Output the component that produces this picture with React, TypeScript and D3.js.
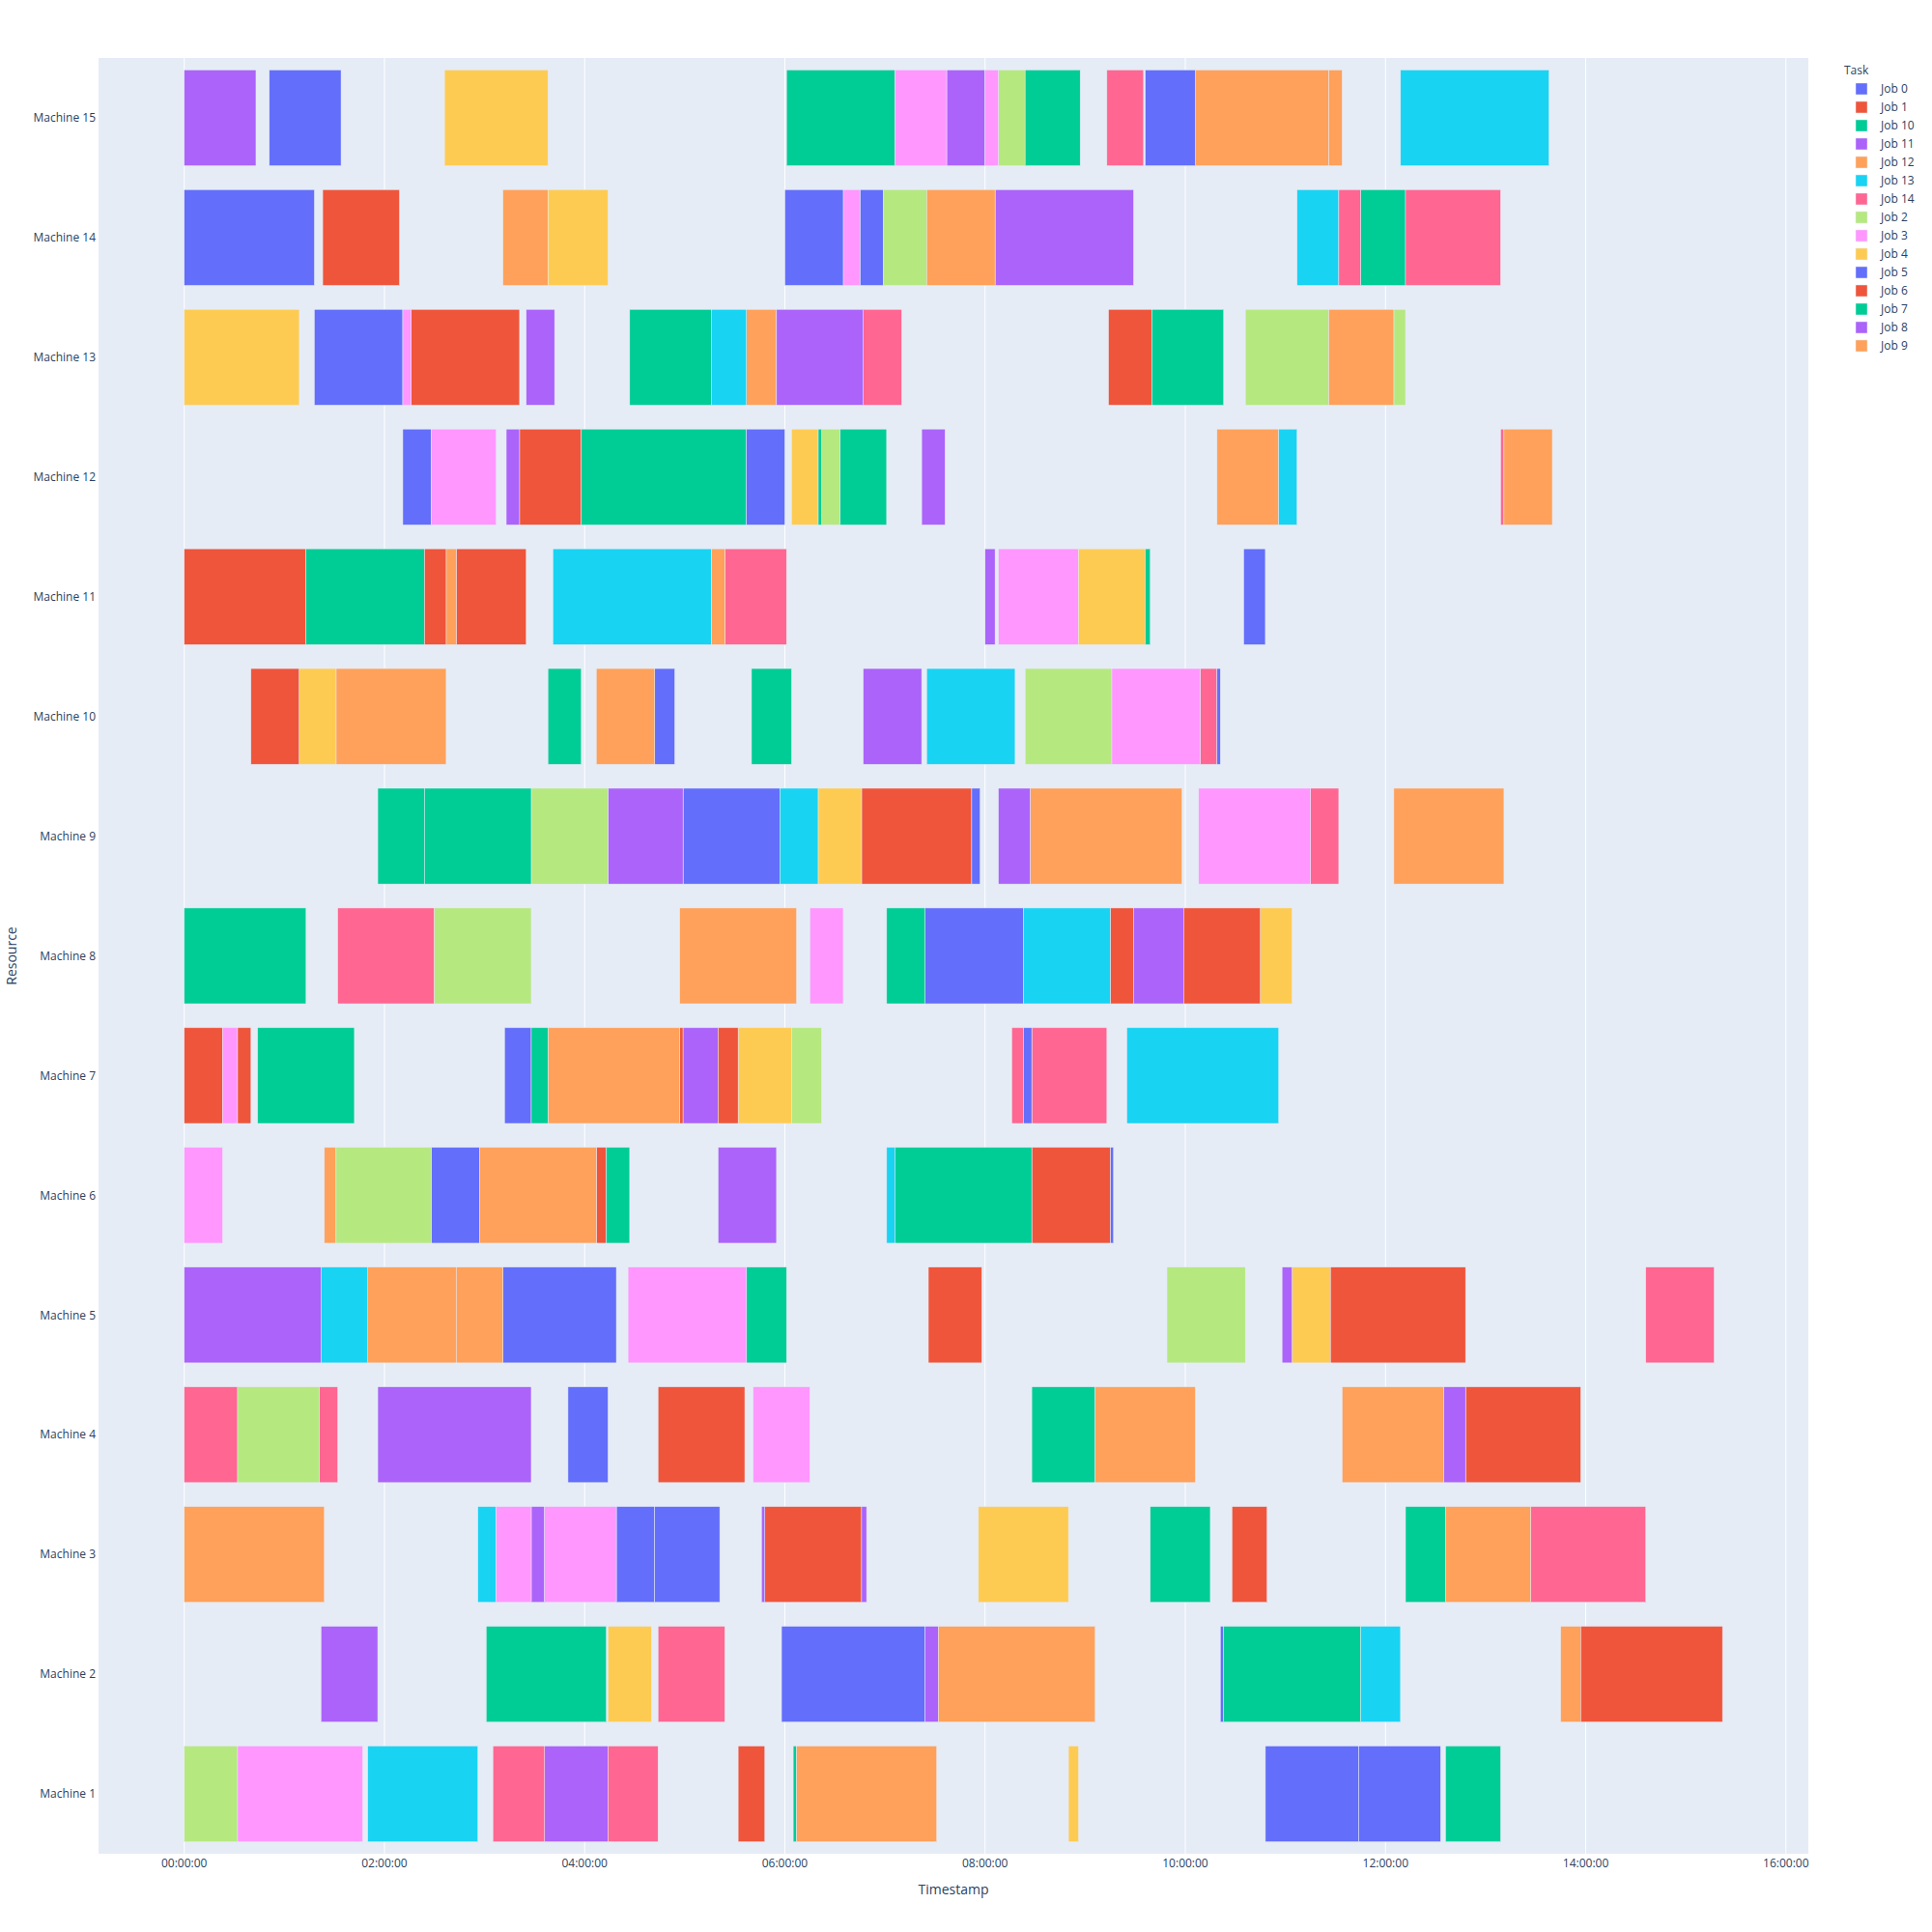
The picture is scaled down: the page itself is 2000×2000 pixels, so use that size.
import * as d3 from "d3";

// segments per machine: [job, start, finish] (H:MM, same day)
const machine1 = [
  ["Job 2", "0:00", "0:32"], ["Job 3", "0:32", "1:47"], ["Job 13", "1:50", "2:56"], ["Job 14", "3:05", "3:36"],
  ["Job 11", "3:36", "4:14"], ["Job 14", "4:14", "4:44"], ["Job 1", "5:32", "5:48"], ["Job 10", "6:05", "6:07"],
  ["Job 12", "6:07", "7:31"], ["Job 4", "8:50", "8:56"], ["Job 0", "10:48", "11:44"], ["Job 5", "11:44", "12:33"],
  ["Job 7", "12:36", "13:09"],
];
const machine2 = [
  ["Job 11", "1:22", "1:56"], ["Job 10", "3:01", "4:13"], ["Job 4", "4:14", "4:40"], ["Job 14", "4:44", "5:24"],
  ["Job 0", "5:58", "7:24"], ["Job 8", "7:24", "7:32"], ["Job 9", "7:32", "9:06"], ["Job 5", "10:21", "10:23"],
  ["Job 7", "10:23", "11:45"], ["Job 13", "11:45", "12:09"], ["Job 12", "13:45", "13:57"], ["Job 6", "13:57", "15:22"],
];
const machine3 = [
  ["Job 12", "0:00", "1:24"], ["Job 13", "2:56", "3:07"], ["Job 3", "3:07", "3:28"], ["Job 11", "3:28", "3:36"],
  ["Job 3", "3:36", "4:19"], ["Job 0", "4:19", "4:42"], ["Job 5", "4:42", "5:21"], ["Job 8", "5:46", "5:48"],
  ["Job 1", "5:48", "6:46"], ["Job 11", "6:46", "6:49"], ["Job 4", "7:56", "8:50"], ["Job 10", "9:39", "10:15"],
  ["Job 6", "10:28", "10:49"], ["Job 7", "12:12", "12:36"], ["Job 9", "12:36", "13:27"], ["Job 14", "13:27", "14:36"],
];
const machine4 = [
  ["Job 14", "0:00", "0:32"], ["Job 2", "0:32", "1:21"], ["Job 14", "1:21", "1:32"], ["Job 11", "1:56", "3:28"],
  ["Job 0", "3:50", "4:14"], ["Job 1", "4:44", "5:36"], ["Job 3", "5:41", "6:15"], ["Job 10", "8:28", "9:06"],
  ["Job 12", "9:06", "10:06"], ["Job 9", "11:34", "12:35"], ["Job 8", "12:35", "12:48"], ["Job 6", "12:48", "13:57"],
];
const machine5 = [
  ["Job 11", "0:00", "1:22"], ["Job 13", "1:22", "1:50"], ["Job 12", "1:50", "2:43"], ["Job 9", "2:43", "3:11"],
  ["Job 0", "3:11", "4:19"], ["Job 3", "4:26", "5:37"], ["Job 10", "5:37", "6:01"], ["Job 1", "7:26", "7:58"],
  ["Job 2", "9:49", "10:36"], ["Job 8", "10:58", "11:04"], ["Job 4", "11:04", "11:27"], ["Job 6", "11:27", "12:48"],
  ["Job 14", "14:36", "15:17"],
];
const machine6 = [
  ["Job 3", "0:00", "0:23"], ["Job 12", "1:24", "1:31"], ["Job 2", "1:31", "2:28"], ["Job 0", "2:28", "2:57"],
  ["Job 9", "2:57", "4:07"], ["Job 1", "4:07", "4:13"], ["Job 10", "4:13", "4:27"], ["Job 11", "5:20", "5:55"],
  ["Job 13", "7:01", "7:06"], ["Job 7", "7:06", "8:28"], ["Job 6", "8:28", "9:15"], ["Job 5", "9:15", "9:17"],
];
const machine7 = [
  ["Job 1", "0:00", "0:23"], ["Job 3", "0:23", "0:32"], ["Job 6", "0:32", "0:40"], ["Job 10", "0:44", "1:42"],
  ["Job 0", "3:12", "3:28"], ["Job 7", "3:28", "3:38"], ["Job 12", "3:38", "4:57"], ["Job 1", "4:57", "4:59"],
  ["Job 11", "4:59", "5:20"], ["Job 6", "5:20", "5:32"], ["Job 4", "5:32", "6:04"], ["Job 2", "6:04", "6:22"],
  ["Job 14", "8:16", "8:23"], ["Job 5", "8:23", "8:28"], ["Job 14", "8:28", "9:13"], ["Job 13", "9:25", "10:56"],
];
const machine8 = [
  ["Job 10", "0:00", "1:13"], ["Job 14", "1:32", "2:30"], ["Job 2", "2:30", "3:28"], ["Job 12", "4:57", "6:07"],
  ["Job 3", "6:15", "6:35"], ["Job 7", "7:01", "7:24"], ["Job 0", "7:24", "8:23"], ["Job 13", "8:23", "9:15"],
  ["Job 1", "9:15", "9:29"], ["Job 11", "9:29", "9:59"], ["Job 6", "9:59", "10:45"], ["Job 4", "10:45", "11:04"],
];
const machine9 = [
  ["Job 10", "1:56", "2:24"], ["Job 7", "2:24", "3:28"], ["Job 2", "3:28", "4:14"], ["Job 11", "4:14", "4:59"],
  ["Job 0", "4:59", "5:57"], ["Job 13", "5:57", "6:20"], ["Job 4", "6:20", "6:46"], ["Job 1", "6:46", "7:52"],
  ["Job 5", "7:52", "7:57"], ["Job 8", "8:08", "8:27"], ["Job 12", "8:27", "9:58"], ["Job 3", "10:08", "11:15"],
  ["Job 14", "11:15", "11:32"], ["Job 9", "12:05", "13:11"],
];
const machine10 = [
  ["Job 1", "0:40", "1:09"], ["Job 4", "1:09", "1:31"], ["Job 12", "1:31", "2:37"], ["Job 10", "3:38", "3:58"],
  ["Job 9", "4:07", "4:42"], ["Job 0", "4:42", "4:54"], ["Job 7", "5:40", "6:04"], ["Job 11", "6:47", "7:22"],
  ["Job 13", "7:25", "8:18"], ["Job 2", "8:24", "9:16"], ["Job 3", "9:16", "10:09"], ["Job 14", "10:09", "10:19"],
  ["Job 5", "10:19", "10:21"],
];
const machine11 = [
  ["Job 1", "0:00", "1:13"], ["Job 10", "1:13", "2:24"], ["Job 6", "2:24", "2:37"], ["Job 12", "2:37", "2:43"],
  ["Job 1", "2:43", "3:25"], ["Job 13", "3:41", "5:16"], ["Job 9", "5:16", "5:24"], ["Job 14", "5:24", "6:01"],
  ["Job 11", "8:00", "8:06"], ["Job 3", "8:08", "8:56"], ["Job 4", "8:56", "9:36"], ["Job 7", "9:36", "9:39"],
  ["Job 0", "10:35", "10:48"],
];
const machine12 = [
  ["Job 0", "2:11", "2:28"], ["Job 3", "2:28", "3:07"], ["Job 11", "3:13", "3:21"], ["Job 1", "3:21", "3:58"],
  ["Job 10", "3:58", "5:37"], ["Job 5", "5:37", "6:00"], ["Job 4", "6:04", "6:20"], ["Job 7", "6:20", "6:22"],
  ["Job 2", "6:22", "6:33"], ["Job 10", "6:33", "7:01"], ["Job 8", "7:22", "7:36"], ["Job 12", "10:19", "10:56"],
  ["Job 13", "10:56", "11:07"], ["Job 14", "13:09", "13:11"], ["Job 9", "13:11", "13:40"],
];
const machine13 = [
  ["Job 4", "0:00", "1:09"], ["Job 0", "1:18", "2:11"], ["Job 3", "2:11", "2:16"], ["Job 1", "2:16", "3:21"],
  ["Job 11", "3:25", "3:42"], ["Job 10", "4:27", "5:16"], ["Job 13", "5:16", "5:37"], ["Job 12", "5:37", "5:55"],
  ["Job 8", "5:55", "6:47"], ["Job 14", "6:47", "7:10"], ["Job 6", "9:14", "9:40"], ["Job 7", "9:40", "10:23"],
  ["Job 2", "10:36", "11:26"], ["Job 9", "11:26", "12:05"], ["Job 2", "12:05", "12:12"],
];
const machine14 = [
  ["Job 0", "0:00", "1:18"], ["Job 1", "1:23", "2:09"], ["Job 12", "3:11", "3:38"], ["Job 4", "3:38", "4:14"],
  ["Job 5", "6:00", "6:35"], ["Job 3", "6:35", "6:45"], ["Job 0", "6:45", "6:59"], ["Job 2", "6:59", "7:25"],
  ["Job 9", "7:25", "8:06"], ["Job 11", "8:06", "9:29"], ["Job 13", "11:07", "11:32"], ["Job 14", "11:32", "11:45"],
  ["Job 10", "11:45", "12:12"], ["Job 14", "12:12", "13:09"],
];
const machine15 = [
  ["Job 8", "0:00", "0:43"], ["Job 0", "0:51", "1:34"], ["Job 4", "2:36", "3:38"], ["Job 10", "6:01", "7:06"],
  ["Job 3", "7:06", "7:37"], ["Job 11", "7:37", "8:00"], ["Job 3", "8:00", "8:08"], ["Job 2", "8:08", "8:24"],
  ["Job 7", "8:24", "8:57"], ["Job 14", "9:13", "9:35"], ["Job 5", "9:36", "10:06"], ["Job 12", "10:06", "11:26"],
  ["Job 9", "11:26", "11:34"], ["Job 13", "12:09", "13:38"],
];

const machineNames = Array.from({ length: 15 }, (_, i) => `Machine ${15 - i}`);
const schedule = [machine15, machine14, machine13, machine12, machine11, machine10, machine9, machine8,
  machine7, machine6, machine5, machine4, machine3, machine2, machine1];

const jobs = ["Job 0", "Job 1", "Job 10", "Job 11", "Job 12", "Job 13", "Job 14", "Job 2", "Job 3", "Job 4",
  "Job 5", "Job 6", "Job 7", "Job 8", "Job 9"];
const jobColors = ["#636efa", "#EF553B", "#00cc96", "#ab63fa", "#FFA15A", "#19d3f3", "#FF6692", "#B6E880",
  "#FF97FF", "#FECB52", "#636efa", "#EF553B", "#00cc96", "#ab63fa", "#FFA15A"];

const BASE = new Date(2021, 0, 1, 0, 0, 0).getTime();
const HOUR = 3600 * 1000;
const t = (s: string) => {
  const [h, m] = s.split(":").map(Number);
  return new Date(BASE + h * HOUR + m * 60000);
};

const W = 2000, H = 2000;
const left = 102, right = 1872, top = 60, bottom = 1919;
const font = "'Open Sans', Verdana, Arial, sans-serif";
const ink = "#2a3f5f";

export default function App() {
  const x = d3.scaleTime()
    .domain([new Date(BASE - 0.856 * HOUR), new Date(BASE + 16.224 * HOUR)])
    .range([left, right]);
  const y = d3.scaleBand().domain(machineNames).range([top, bottom]).paddingInner(0.2).paddingOuter(0.1);
  const color = d3.scaleOrdinal<string, string>().domain(jobs).range(jobColors);
  const ticks = x.ticks(d3.timeHour.every(2)!).filter(d => d.getTime() >= BASE);
  const fmt = d3.timeFormat("%H:%M:%S");

  // plotly draws traces in legend order
  const bars = schedule.flatMap((segs, i) =>
    segs.map(([job, s, e]) => ({ machine: machineNames[i], job, start: t(s), end: t(e) })));
  bars.sort((a, b) => jobs.indexOf(a.job) - jobs.indexOf(b.job));

  return (
    <div style={{ position: "absolute", left: 0, top: 0 }}>
      <svg width={W} height={H} style={{ display: "block", background: "#fff" }} fontFamily={font}>
        <rect x={left} y={top} width={right - left} height={bottom - top} fill="#E5ECF6" />
        {ticks.map((d, i) => (
          <line key={i} x1={x(d)} x2={x(d)} y1={top} y2={bottom} stroke="#fff" strokeWidth={1} />
        ))}
        {bars.map((b, i) => (
          <rect key={i} x={x(b.start)} y={y(b.machine)} width={x(b.end) - x(b.start)} height={y.bandwidth()}
            fill={color(b.job)} stroke="#E5ECF6" strokeWidth={0.5} />
        ))}
        {ticks.map((d, i) => (
          <text key={i} x={x(d)} y={1929} dy="0.35em" textAnchor="middle" fontSize={12} fill={ink}>{fmt(d)}</text>
        ))}
        {machineNames.map(m => (
          <text key={m} x={99} y={y(m)! + y.bandwidth() / 2} dy="0.35em" textAnchor="end" fontSize={12} fill={ink}>{m}</text>
        ))}
        <text x={(left + right) / 2} y={1956} dy="0.35em" textAnchor="middle" fontSize={14} fill={ink}>Timestamp</text>
        <text transform={`translate(12,${(top + bottom) / 2}) rotate(-90)`} dy="0.35em" textAnchor="middle"
          fontSize={14} fill={ink}>Resource</text>
        <g transform="translate(1907,0)">
          <text x={2} y={73} dy="0.35em" fontSize={12} fill={ink}>Task</text>
          {jobs.map((j, i) => (
            <g key={j} transform={`translate(0,${92 + i * 19})`}>
              <rect x={14} y={-6} width={12} height={12} fill={color(j)} stroke="#E5ECF6" strokeWidth={0.5} />
              <text x={40} y={0} dy="0.35em" fontSize={12} fill={ink}>{j}</text>
            </g>
          ))}
        </g>
      </svg>
    </div>
  );
}
